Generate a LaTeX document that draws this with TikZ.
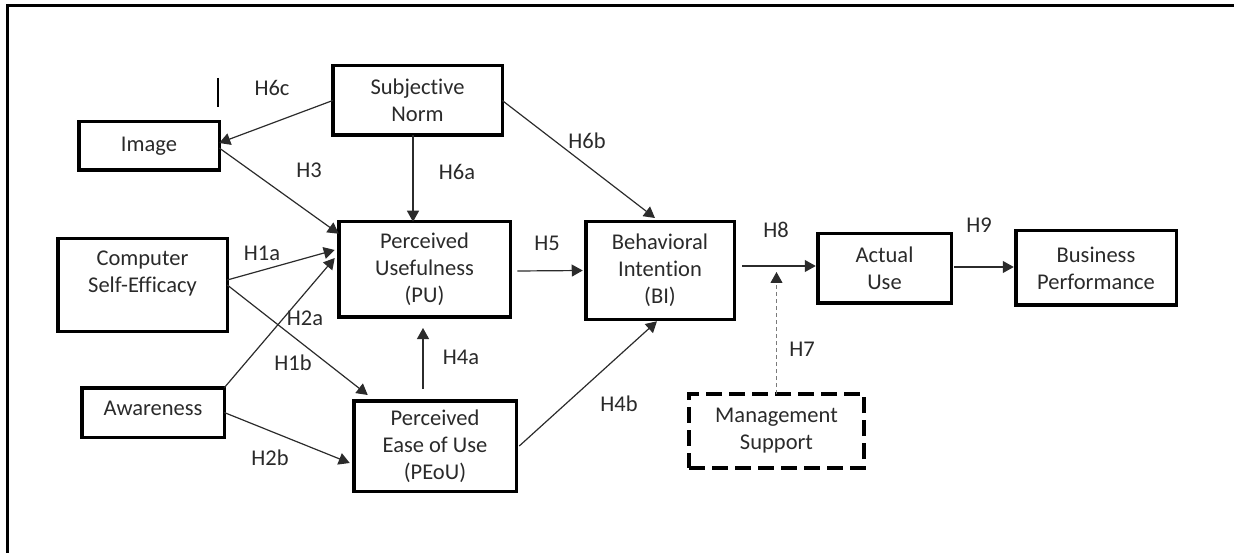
\documentclass[tikz,border=0pt]{standalone}
\usepackage{fontspec}
\setmainfont{Carlito}[Ligatures=NoCommon]
\usetikzlibrary{arrows.meta}
\definecolor{ink}{HTML}{2B2B2B}
\definecolor{txt}{HTML}{2A2A2A}
\definecolor{dashgray}{HTML}{7A7A7A}
\begin{document}
\begin{tikzpicture}[x=1pt,y=-1pt,
  every node/.style={font=\fontsize{22.5}{27}\selectfont, text=txt, inner sep=0pt, outer sep=0pt},
  box/.style={draw=black, line width=3.5pt, align=center},
  dbox/.style={draw=black, line width=4pt, dash pattern=on 16pt off 7pt, align=center},
  arr/.style={draw=ink, line width=1.2pt, -{Triangle[length=11pt,width=12pt]}},
  darr/.style={draw=dashgray, line width=1pt, dash pattern=on 4pt off 3pt, -{Triangle[length=11pt,width=12pt,color=ink]}},
  hl/.style={}
]
\useasboundingbox (0,0) rectangle (1234,553);
% frame (only top and left edges visible)
\draw[line width=3pt, black] (7,553) -- (7,6) -- (1234,6);
% stray tick
\draw[line width=2.5pt, black] (218,78) -- (218,107);

% boxes
\node[box, minimum width=169.5pt, minimum height=69.5pt] (sn) at (417.5,100.5) {Subjective\\Norm};
\node[box, minimum width=140.5pt, minimum height=48.5pt] (img) at (149,146) {Image};
\node[box, minimum width=169.5pt, minimum height=92.5pt] (cse) at (142.5,285) {};
\node (cset) at (142.5,273.5) [align=center] {Computer\\Self-Efficacy};
\node[box, minimum width=142.5pt, minimum height=49.5pt] (aw) at (153,412.5) {};
\node (awt) at (153,408) {Awareness};
\node[box, minimum width=171.5pt, minimum height=95.5pt] (pu) at (424.5,269.5) {Perceived\\Usefulness\\(PU)};
\node[box, minimum width=162.5pt, minimum height=90.5pt] (pe) at (435,446) {Perceived\\Ease of Use\\(PEoU)};
\node[box, minimum width=148.5pt, minimum height=97.5pt] (bi) at (660,270.5) {Behavioral\\Intention\\(BI)};
\node[dbox, minimum width=175pt, minimum height=74pt] (ms) at (776.5,431) {Management\\Support};
\node[box, minimum width=133.5pt, minimum height=69.5pt] (au) at (884.5,268.5) {Actual\\Use};
\node[box, minimum width=160.5pt, minimum height=74.5pt] (bp) at (1096,268) {Business\\Performance};

% connectors
\draw[arr] (sn.west) -- ([yshift=3pt]img.east);
\draw[arr] ([yshift=-2pt]img.east) -- ([yshift=-12pt]pu.north west);
\draw[arr] ([xshift=-4.5pt]sn.south) -- ([xshift=-11.5pt]pu.north);
\draw[arr] ([yshift=5pt]cse.east) -- ([xshift=-4pt,yshift=19.5pt]pu.west);
\draw[arr] (aw.north east) -- ([xshift=-4pt,yshift=11.5pt]pu.west);
\draw[arr] (cse.east) -- ([xshift=14pt,yshift=5.75pt]pe.north west);
\draw[arr] (aw.east) -- ([xshift=-4pt,yshift=-17pt]pe.west);
\draw[arr] ([xshift=-12pt,yshift=11.75pt]pe.north) -- ([xshift=-1.5pt,yshift=-10.75pt]pu.south);
\draw[arr] ([xshift=7pt,yshift=-1.5pt]pu.east) -- ([xshift=-3pt]bi.west);
\draw[arr] ([xshift=3pt]pe.east) -- ([xshift=-3pt,yshift=-2pt]bi.south);
\draw[arr] (sn.east) -- ([xshift=-5pt,yshift=3.75pt]bi.north);
\coordinate (h8s) at ([xshift=8pt,yshift=4.5pt]bi.east);
\draw[arr] (h8s) -- ([xshift=-2pt,yshift=2.5pt]au.west);
\draw[darr] (ms.north) -- ([yshift=-6pt]ms.north |- h8s);
\draw[arr] ([xshift=3pt,yshift=1.5pt]au.east) -- ([xshift=-2pt,yshift=1pt]bp.west);

% hypothesis labels
\node[hl] (lh6c) at (272,88) {H6c};
\node[hl] (lh3) at (309,170) {H3};
\node[hl] (lh6a) at (457,172) {H6a};
\node[hl] (lh6b) at (587,141) {H6b};
\node[hl] (lh1a) at (262,253) {H1a};
\node[hl] (lh2a) at (305,318) {H2a};
\node[hl] (lh1b) at (293,363) {H1b};
\node[hl] (lh2b) at (270,458) {H2b};
\node[hl] (lh4a) at (461,357) {H4a};
\node[hl] (lh5) at (547,243) {H5};
\node[hl] (lh4b) at (619,404) {H4b};
\node[hl] (lh8) at (776,230) {H8};
\node[hl] (lh7) at (802,349) {H7};
\node[hl] (lh9) at (979,225) {H9};
\end{tikzpicture}
\end{document}
